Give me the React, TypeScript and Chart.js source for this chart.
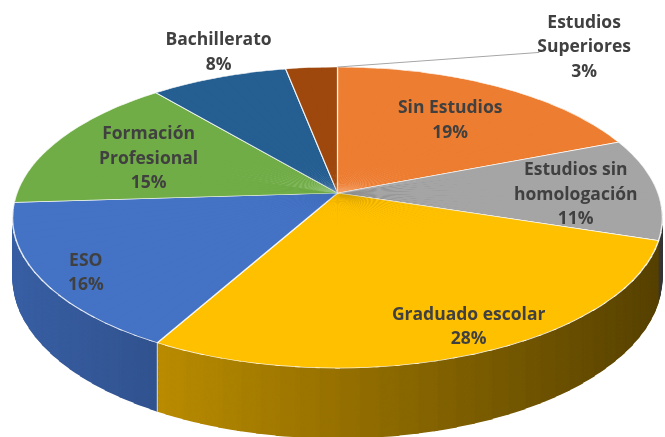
import React, { useEffect, useRef } from "react";
import { Chart, registerables } from "chart.js";

Chart.register(...registerables);

// ---------- data ----------
const categories = [
  "Sin Estudios",
  "Estudios sin homologación",
  "Graduado escolar",
  "ESO",
  "Formación Profesional",
  "Bachillerato",
  "Estudios Superiores",
];
const values = [19, 11, 28, 16, 15, 8, 3];
const colors = ["#ED7D31", "#A5A5A5", "#FFC000", "#4472C4", "#70AD47", "#255E91", "#9E480E"];
const labelLines = [
  ["Sin Estudios"],
  ["Estudios sin", "homologación"],
  ["Graduado escolar"],
  ["ESO"],
  ["Formación", "Profesional"],
  ["Bachillerato"],
  ["Estudios", "Superiores"],
];

// ---------- layout (3D projection of the pie) ----------
const W = 665;
const H = 437;
const CX = 337.5;
const CY = 193;
const AX = 320.6;
const BY = 146.5;
const PERSP = 0.163;
const DEPTH = 59;
const STEP_DEG = 3;
const SIDE_STEPS = 80;
const FONT = "bold 17.5px 'Open Sans'";
const LINE_H = 24.5;
const TEXT_COLOR = "#404040";
const labelRadius = [0.65, 0.74, 0.85, 0.86, 0.67, 1.28, 1.3];
const labelShift = [
  [5, 0],
  [2, 5],
  [16, 1],
  [0, 7],
  [0, 3],
  [28, 2],
  [279, 11],
];

const HALF = Math.PI / 2;

function proj(theta: number, f = 1) {
  const u = Math.sin(theta) * f;
  const v = -Math.cos(theta) * f;
  const w = 1 - PERSP * v;
  return { x: CX + (AX * u) / w, y: CY + (BY * v) / w, w };
}

function wedgeTransform(el: any, t1: number, t2: number) {
  const r = el.outerRadius;
  const u1 = Math.sin(t1), v1 = -Math.cos(t1);
  const u2 = Math.sin(t2), v2 = -Math.cos(t2);
  const q1 = proj(t1), q2 = proj(t2);
  const Q1x = q1.x - CX, Q1y = q1.y - CY, Q2x = q2.x - CX, Q2y = q2.y - CY;
  const det = r * (u1 * v2 - u2 * v1);
  const m11 = (Q1x * v2 - Q2x * v1) / det;
  const m12 = (-Q1x * u2 + Q2x * u1) / det;
  const m21 = (Q1y * v2 - Q2y * v1) / det;
  const m22 = (-Q1y * u2 + Q2y * u1) / det;
  const e = CX - (m11 * el.x + m12 * el.y);
  const f = CY - (m21 * el.x + m22 * el.y);
  return [m11, m21, m12, m22, e, f];
}

function clipWedge(ctx: CanvasRenderingContext2D, t1: number, t2: number, dy: number) {
  const eps = 0.006;
  const a = proj(t1 - eps), b = proj(t2 + eps);
  const k = 1.6;
  ctx.beginPath();
  ctx.moveTo(CX, CY + dy);
  ctx.lineTo(CX + k * (a.x - CX), CY + k * (a.y - CY) + dy);
  ctx.lineTo(CX + k * (b.x - CX), CY + k * (b.y - CY) + dy);
  ctx.closePath();
  ctx.clip();
}

function hexToRgb(hex: string) {
  const n = parseInt(hex.slice(1), 16);
  return [(n >> 16) & 255, (n >> 8) & 255, n & 255];
}

function shadeAt(x: number) {
  const f = 0.84 - (0.5 * (x - 10)) / 650;
  return Math.max(0.3, Math.min(0.9, f));
}

function shadeColor(hex: string, f: number) {
  const [r, g, b] = hexToRgb(hex);
  return `rgb(${Math.round(r * f)},${Math.round(g * f)},${Math.round(b * f)})`;
}

function fakeArc(el: any, color: string) {
  const f = Object.create(el);
  f.options = { ...el.options, backgroundColor: color, borderColor: color, borderWidth: 0 };
  return f;
}

const pie3dPlugin = {
  id: "pie3d",
  beforeDatasetsDraw(chart: any) {
    const ctx: CanvasRenderingContext2D = chart.ctx;
    const arcs: any[] = chart.getDatasetMeta(0).data;
    if (!arcs.length) return false;
    const ref = arcs[0];
    const spans = arcs.map((a) => [a.startAngle + HALF, a.endAngle + HALF]);
    const N = Math.round(360 / STEP_DEG);
    const step = (2 * Math.PI) / N;
    const overl = (k: number, t1: number, t2: number) => spans[k][0] < t2 && spans[k][1] > t1;

    // side walls: extruded layers, drawn bottom layer first over all wedges
    const sideWedges: any[] = [];
    for (let i = 0; i < N; i++) {
      const t1 = i * step, t2 = (i + 1) * step, tm = (t1 + t2) / 2;
      if (-Math.cos(tm) < -0.3) continue;
      const pm = proj(tm);
      const fac = shadeAt(pm.x);
      sideWedges.push({
        t1,
        t2,
        depth: DEPTH / pm.w,
        m: wedgeTransform(ref, t1, t2),
        fakes: arcs
          .map((a, k) => (overl(k, t1, t2) ? fakeArc(a, shadeColor(colors[k], fac)) : null))
          .filter(Boolean),
      });
    }
    for (let s = SIDE_STEPS; s >= 1; s--) {
      const t = s / SIDE_STEPS;
      for (const wd of sideWedges) {
        const dy = t * wd.depth;
        const m = wd.m;
        ctx.save();
        clipWedge(ctx, wd.t1, wd.t2, dy);
        ctx.transform(m[0], m[1], m[2], m[3], m[4], m[5] + dy);
        wd.fakes.forEach((f: any) => f.draw(ctx));
        ctx.restore();
      }
    }

    // vertical separators on the side wall
    ctx.save();
    ctx.strokeStyle = "rgba(255,255,255,0.85)";
    ctx.lineWidth = 1;
    spans.forEach(([s]) => {
      if (-Math.cos(s) > 0.5) {
        const p = proj(s);
        ctx.beginPath();
        ctx.moveTo(p.x, p.y);
        ctx.lineTo(p.x, p.y + DEPTH / p.w);
        ctx.stroke();
      }
    });
    ctx.restore();

    // top face
    for (let i = 0; i < N; i++) {
      const t1 = i * step, t2 = (i + 1) * step;
      const m = wedgeTransform(ref, t1, t2);
      ctx.save();
      clipWedge(ctx, t1, t2, 0);
      ctx.transform(m[0], m[1], m[2], m[3], m[4], m[5]);
      arcs.forEach((a, k) => {
        if (overl(k, t1, t2)) a.draw(ctx);
      });
      ctx.restore();
    }
    return false;
  },
};

const labelPlugin = {
  id: "pieLabels",
  afterDraw(chart: any) {
    const ctx: CanvasRenderingContext2D = chart.ctx;
    const arcs: any[] = chart.getDatasetMeta(0).data;
    const total = values.reduce((s, v) => s + v, 0);
    ctx.save();
    ctx.font = FONT;
    ctx.fillStyle = TEXT_COLOR;
    ctx.textAlign = "center";
    ctx.textBaseline = "middle";
    arcs.forEach((a, k) => {
      const tm = (a.startAngle + a.endAngle) / 2 + HALF;
      const p = proj(tm, labelRadius[k]);
      const cx = p.x + labelShift[k][0];
      const cy = p.y + labelShift[k][1];
      const lines = [...labelLines[k], `${Math.round((values[k] / total) * 100)}%`];
      const y0 = cy - ((lines.length - 1) * LINE_H) / 2;
      lines.forEach((t, j) => ctx.fillText(t, cx, y0 + j * LINE_H));
      if (labelRadius[k] > 1.29) {
        // leader line from the slice edge to the label
        const start = proj(a.endAngle + HALF);
        const wLine = ctx.measureText(lines[1]).width;
        ctx.save();
        ctx.strokeStyle = "#A6A6A6";
        ctx.lineWidth = 1;
        ctx.beginPath();
        ctx.moveTo(start.x, start.y);
        ctx.lineTo(cx - wLine / 2 + 2, y0 + LINE_H + 5);
        ctx.stroke();
        ctx.restore();
      }
    });
    ctx.restore();
  },
};

export default function App() {
  const canvasRef = useRef<HTMLCanvasElement | null>(null);

  useEffect(() => {
    document.body.style.margin = "0";
    document.body.style.background = "#ffffff";
    const canvas = canvasRef.current;
    if (!canvas) return;
    const chart = new Chart(canvas, {
      type: "pie",
      data: {
        labels: categories,
        datasets: [
          {
            data: values,
            backgroundColor: colors,
            borderColor: "rgba(255,255,255,0.85)",
            borderWidth: 1,
          },
        ],
      },
      options: {
        responsive: false,
        animation: false,
        events: [],
        layout: { padding: 0 },
        plugins: {
          legend: { display: false },
          tooltip: { enabled: false },
        },
      },
      plugins: [pie3dPlugin, labelPlugin],
    } as any);
    return () => chart.destroy();
  }, []);

  return (
    <div style={{ width: W, height: H, background: "#ffffff" }}>
      <canvas ref={canvasRef} width={W} height={H} style={{ display: "block" }} />
    </div>
  );
}
